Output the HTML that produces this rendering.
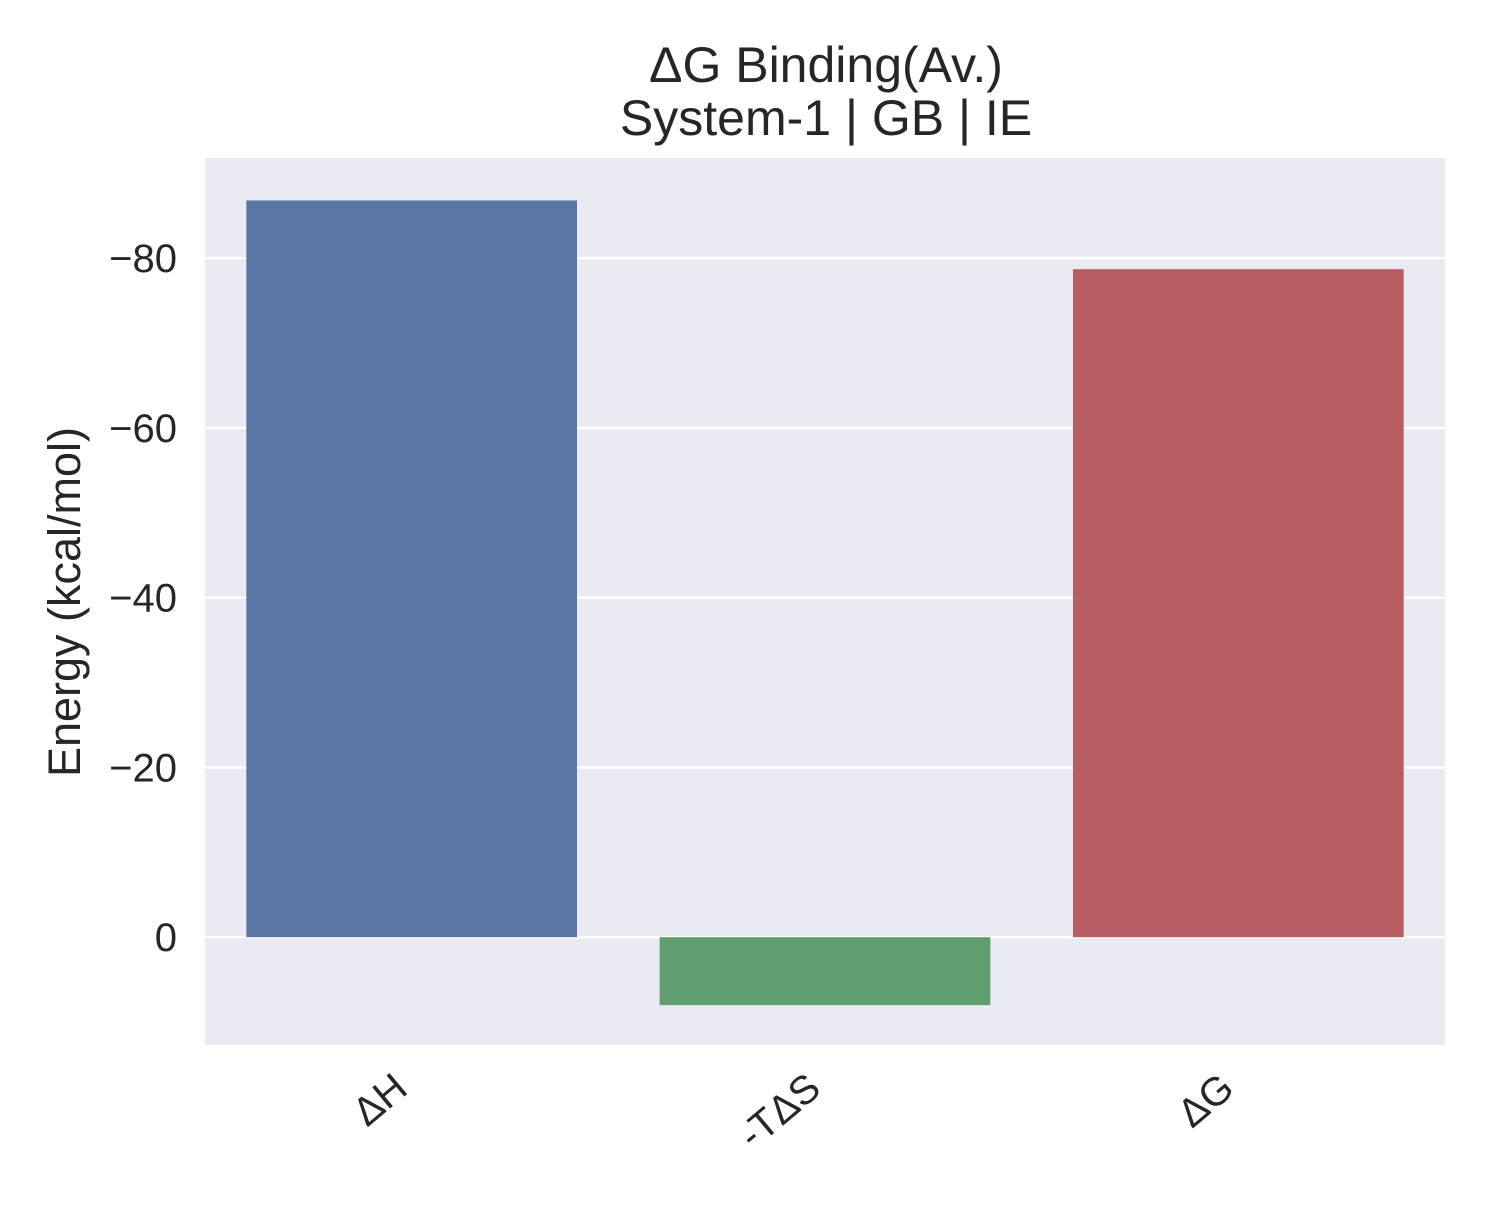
<!DOCTYPE html>
<html><head><meta charset="utf-8"><style>
body{margin:0;background:#fff;}
svg text{font-family:"Liberation Sans","DejaVu Sans",sans-serif;fill:#262626;}
</style></head><body>
<svg id="chart" width="1491" height="1212" viewBox="0 0 1491 1212" xmlns="http://www.w3.org/2000/svg">
<rect x="205" y="158" width="1240" height="887" fill="#eaeaf2"/>
<g id="grid"></g>
<g id="bars"></g>
<g id="yticks"></g>
<g id="xticks"></g>
<text x="826" y="82" font-size="50" text-anchor="middle">ΔG Binding(Av.)</text>
<text x="826" y="135" font-size="50" text-anchor="middle">System-1 | GB | IE</text>
<text transform="translate(80,602) rotate(-90)" font-size="45" text-anchor="middle">Energy (kcal/mol)</text>
</svg>
<script>
const categories = ["ΔH", "-TΔS", "ΔG"];
const values = [-86.8, 8.0, -78.7];
const colors = ["#5875a4", "#5f9e6e", "#b55d60"];
const yTicks = [0, -20, -40, -60, -80];
const yTickLabels = ["0", "−20", "−40", "−60", "−80"];
const NS = "http://www.w3.org/2000/svg";
const plotL = 205, plotR = 1445, plotT = 158, plotB = 1045;
const yMin = -91.8, yMax = 12.7;
function y(v){ return plotT + (v - yMin) / (yMax - yMin) * (plotB - plotT); }
const band = (plotR - plotL) / categories.length;
function xc(i){ return plotL + band * (i + 0.5); }
function mk(tag, attrs, parent){ const e = document.createElementNS(NS, tag); for (const k in attrs) e.setAttribute(k, attrs[k]); parent.appendChild(e); return e; }
const grid = document.getElementById("grid"), bars = document.getElementById("bars"), yt = document.getElementById("yticks"), xt = document.getElementById("xticks");
yTicks.forEach((t, i) => {
  const l = mk("line", {x1: plotL, x2: plotR, y1: y(t), y2: y(t), stroke: "#fff", "stroke-width": 2.5}, grid);
  
  
  const tx = mk("text", {x: 177, y: y(t) + 14, "font-size": 40, "text-anchor": "end"}, yt);
  tx.textContent = yTickLabels[i];
  
  
});
const bw = band * 0.8;
values.forEach((v, i) => {
  const y0 = y(0), y1 = y(v);
  const r = mk("rect", {x: xc(i) - bw / 2, y: Math.min(y0, y1), width: bw, height: Math.abs(y1 - y0), fill: colors[i]}, bars);
  
  
  const tx = mk("text", {transform: "translate(" + (xc(i) - 2) + ",1092) rotate(-40)", "font-size": 40, "text-anchor": "end"}, xt);
  tx.textContent = categories[i];
  
  
});
</script>
</body></html>
